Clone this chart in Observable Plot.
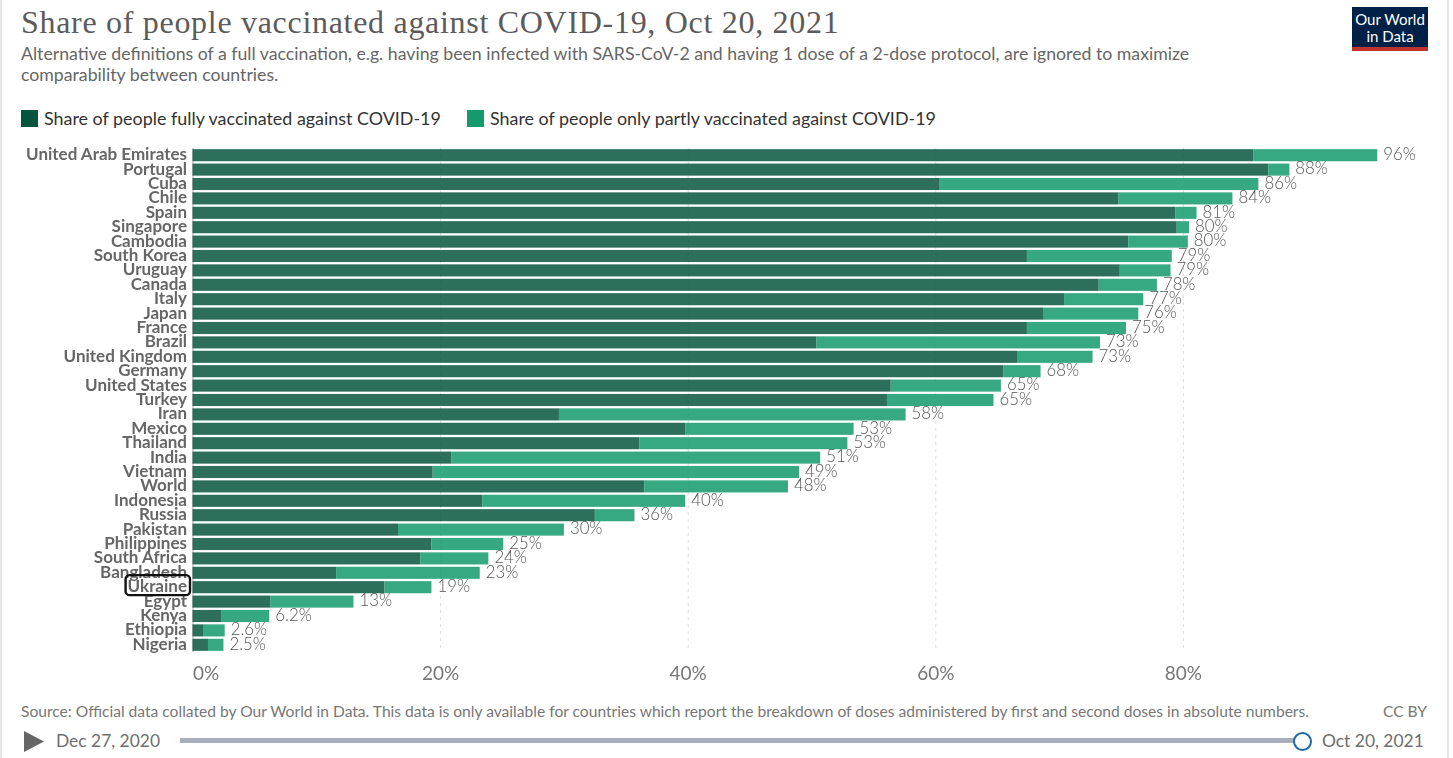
<!DOCTYPE html>
<html><head><meta charset="utf-8">
<script src="https://cdn.jsdelivr.net/npm/d3@7"></script>
<script src="https://cdn.jsdelivr.net/npm/@observablehq/plot@0.6"></script>
<style>
html,body{margin:0;padding:0;background:#fff;overflow:hidden}
#page{position:relative;width:1453px;height:758px;font-family:Lato,sans-serif;color:#5b5b5b;overflow:hidden}
#page>div{position:absolute;white-space:nowrap}
#frameL,#frameR{top:0;height:758px;width:2px;background:#e6e6e6}
#title{left:21px;top:4px;font:400 32px "Liberation Serif",serif;letter-spacing:.7px;color:#5b5b5b}
.sub{left:21px;font-size:17.7px;color:#666}
.lg{top:107px;font-size:17.9px;color:#333}
.sw{top:110px;width:17px;height:17px}
#logo{left:1352px;top:7px;width:76px;height:44px;background:#002147;border-bottom:4px solid #c0342b;box-sizing:border-box;color:#fff;font-size:15px;line-height:16.5px;text-align:center;padding-top:4px}
#chart{left:0;top:140px;will-change:transform}
#chart svg{overflow:visible;font-family:Lato,sans-serif}
.foot{font-size:15.6px;color:#777}
.date{top:730px;font-size:17.4px;color:#6e6e6e}
#track{left:180px;top:738px;width:1118px;height:5px;background:#a9aebc}
#knob{left:1293px;top:732px;width:15px;height:15px;border:2px solid #1d6a9e;border-radius:50%;background:#fff}
#play{left:24px;top:731px;width:20px;height:21px;background:#666;clip-path:polygon(0 0,100% 50%,0 100%)}
</style></head><body>
<div id="page">
<div id="frameL" style="left:0"></div><div id="frameR" style="left:1447px"></div>
<div id="title">Share of people vaccinated against COVID-19, Oct 20, 2021</div>
<div class="sub" style="top:43px">Alternative definitions of a full vaccination, e.g. having been infected with SARS-CoV-2 and having 1 dose of a 2-dose protocol, are ignored to maximize</div>
<div class="sub" style="top:64px">comparability between countries.</div>
<div id="logo">Our World<br>in Data</div>
<div class="sw" style="left:21px;background:#05543c"></div><div class="lg" style="left:44px">Share of people fully vaccinated against COVID-19</div>
<div class="sw" style="left:467px;background:#159a6e"></div><div class="lg" style="left:490px">Share of people only partly vaccinated against COVID-19</div>
<div id="chart"></div>
<div class="foot" style="left:21px;top:702px">Source: Official data collated by Our World in Data. This data is only available for countries which report the breakdown of doses administered by first and second doses in absolute numbers.</div>
<div class="foot" style="left:1383px;top:702px">CC BY</div>
<div id="play"></div>
<div class="date" style="left:56px">Dec 27, 2020</div>
<div id="track"></div><div id="knob"></div>
<div class="date" style="left:1322px">Oct 20, 2021</div>
</div>
<script>
const countries = ["United Arab Emirates","Portugal","Cuba","Chile","Spain","Singapore","Cambodia","South Korea","Uruguay","Canada","Italy","Japan","France","Brazil","United Kingdom","Germany","United States","Turkey","Iran","Mexico","Thailand","India","Vietnam","World","Indonesia","Russia","Pakistan","Philippines","South Africa","Bangladesh","Ukraine","Egypt","Kenya","Ethiopia","Nigeria"];
const fully = [85.7,86.9,60.3,74.8,79.4,79.5,75.6,67.4,74.9,73.2,70.4,68.7,67.4,50.4,66.6,65.5,56.4,56.1,29.6,39.8,36.1,20.9,19.4,36.5,23.4,32.5,16.6,19.3,18.4,11.6,15.5,6.3,2.3,0.85,1.25];
const atLeastOne = [95.7,88.6,86.1,84.0,81.1,80.5,80.4,79.1,79.0,77.9,76.8,76.4,75.4,73.3,72.7,68.5,65.3,64.7,57.6,53.4,52.9,50.7,49.0,48.1,39.8,35.7,30.0,25.1,23.9,23.2,19.3,13.0,6.2,2.6,2.5];
const labels = ["96%","88%","86%","84%","81%","80%","80%","79%","79%","78%","77%","76%","75%","73%","73%","68%","65%","65%","58%","53%","53%","51%","49%","48%","40%","36%","30%","25%","24%","23%","19%","13%","6.2%","2.6%","2.5%"];
const gridTicks = [20,40,60,80];

const rows = countries.map((c,i)=>({c,full:fully[i],total:atLeastOne[i],label:labels[i]}));
const fmt = d => d + "%";
const plot = Plot.plot({
  width:1453, height:560,
  marginLeft:192.5, marginRight:22.5, marginTop:8, marginBottom:48,
  style:{background:"transparent"},
  x:{domain:[0,100]},
  y:{domain:countries,paddingInner:0.16,paddingOuter:0.08,round:false},
  marks:[
    Plot.ruleX(gridTicks,{stroke:"#ddd",strokeDasharray:"3,4"}),
    Plot.ruleX([0],{stroke:"#aaa"}),
    Plot.barX(rows,{y:"c",x1:0,x2:"full",fill:"#05543c",fillOpacity:.84}),
    Plot.barX(rows,{y:"c",x1:"full",x2:"total",fill:"#159a6e",fillOpacity:.86}),
    Plot.text(rows,{y:"c",x:"total",text:"label",textAnchor:"start",dx:5.5,dy:-1,fontSize:16.8,fontWeight:300,fill:"#555"}),
    Plot.axisY({tickSize:0,tickPadding:6,dy:-1,label:null,fontSize:17,fontWeight:700,fill:"#666"}),
    Plot.axisX({ticks:[0],tickSize:0,tickPadding:14,tickFormat:fmt,label:null,textAnchor:"start",fontSize:19,fill:"#777"}),
    Plot.axisX({ticks:gridTicks,tickSize:0,tickPadding:14,tickFormat:fmt,label:null,fontSize:19,fill:"#777"})
  ]
});
document.getElementById("chart").append(plot);
const svg = d3.select(plot);
svg.selectAll("text").filter(function(){return this.textContent==="Ukraine"}).each(function(){
  const box=this.getBoundingClientRect(), o=plot.getBoundingClientRect();
  svg.append("rect").attr("x",box.left-o.left-2).attr("y",box.top-o.top).attr("width",box.width+5).attr("height",box.height-1)
    .attr("rx",4).attr("fill","none").attr("stroke","#111").attr("stroke-width",2.4);
});
</script>
</body></html>
